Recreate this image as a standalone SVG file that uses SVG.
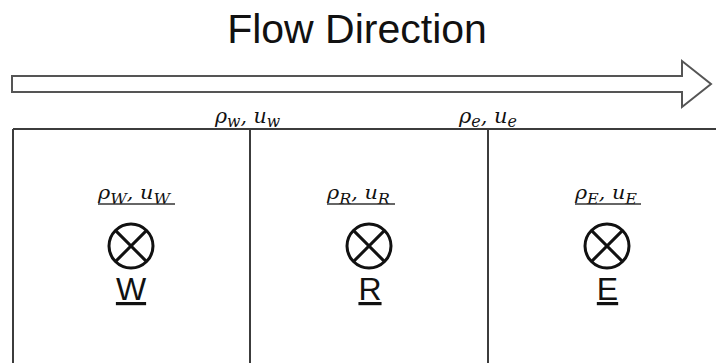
<svg xmlns="http://www.w3.org/2000/svg" width="716" height="363" viewBox="0 0 716 363">
<style>
.grid{stroke:#3c3c3c;stroke-width:2;fill:none}
.title{font-family:"Liberation Sans",Arial,sans-serif;font-size:41px;fill:#111}
.math{font-family:"DejaVu Serif","Liberation Serif",serif;font-style:italic;fill:#111}
.top{font-size:21px}
.cell{font-size:18px}
.sub{font-size:14px}
.ul{stroke:#333;stroke-width:1.5}
.sym{stroke:#111;stroke-width:3;fill:none}
.big{font-family:"Liberation Sans",Arial,sans-serif;font-size:32px;fill:#111;text-anchor:middle;text-decoration:underline}
</style>
<rect width="716" height="363" fill="#fff"/>
<text class="title" x="357" y="43" text-anchor="middle">Flow Direction</text>
<g id="connectors">
<polygon points="12,76 682,76 682,61 711,84 682,107 682,92 12,92" fill="#fff" stroke="#555" stroke-width="2" stroke-linejoin="miter"/>
</g>
<g id="grid">
<path class="grid" d="M13,129 H716 M13,129 V363 M250,129 V363 M488,129 V363"/>
<text class="math top" x="215" y="123" textLength="65" lengthAdjust="spacingAndGlyphs">ρ<tspan dy="4" style="font-size:16px">w</tspan><tspan dy="-4">, u</tspan><tspan dy="4" style="font-size:16px">w</tspan></text>
<text class="math top" x="459" y="123" textLength="58" lengthAdjust="spacingAndGlyphs">ρ<tspan dy="4" style="font-size:16px">e</tspan><tspan dy="-4">, u</tspan><tspan dy="4" style="font-size:16px">e</tspan></text>
</g>
<g id="node-W">
<text class="math cell" x="98" y="199" textLength="72" lengthAdjust="spacingAndGlyphs">ρ<tspan class="sub" dy="5">W</tspan><tspan dy="-5">, u</tspan><tspan class="sub" dy="5">W</tspan></text>
<line class="ul" x1="98" y1="204" x2="175" y2="204"/>
<circle class="sym" cx="131" cy="246" r="22"/>
<path class="sym" d="M115.4,230.4 L146.6,261.6 M146.6,230.4 L115.4,261.6"/>
<text class="big" x="131" y="300">W</text>
</g>
<g id="node-R">
<text class="math cell" x="327" y="199" textLength="63" lengthAdjust="spacingAndGlyphs">ρ<tspan class="sub" dy="5">R</tspan><tspan dy="-5">, u</tspan><tspan class="sub" dy="5">R</tspan></text>
<line class="ul" x1="327" y1="204" x2="395" y2="204"/>
<circle class="sym" cx="369" cy="246" r="22"/>
<path class="sym" d="M353.4,230.4 L384.6,261.6 M384.6,230.4 L353.4,261.6"/>
<text class="big" x="370" y="300">R</text>
</g>
<g id="node-E">
<text class="math cell" x="575" y="199" textLength="62" lengthAdjust="spacingAndGlyphs">ρ<tspan class="sub" dy="5">E</tspan><tspan dy="-5">, u</tspan><tspan class="sub" dy="5">E</tspan></text>
<line class="ul" x1="575" y1="204" x2="641" y2="204"/>
<circle class="sym" cx="607" cy="246" r="22"/>
<path class="sym" d="M591.4,230.4 L622.6,261.6 M622.6,230.4 L591.4,261.6"/>
<text class="big" x="607.5" y="300">E</text>
</g>
</svg>
